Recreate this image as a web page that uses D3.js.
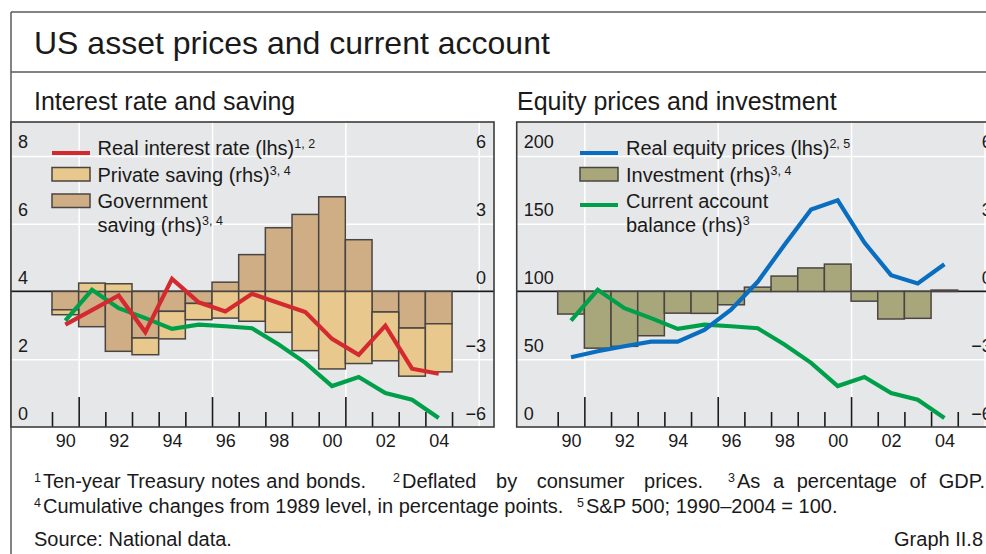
<!DOCTYPE html>
<html>
<head>
<meta charset="utf-8">
<script src="https://cdn.jsdelivr.net/npm/d3@7"></script>
<style>
  html, body { margin: 0; padding: 0; background: #fff; }
  svg { display: block; font-family: "Liberation Sans", Arial, Helvetica, sans-serif; }
</style>
</head>
<body>
<svg id="chart" width="986" height="554"></svg>
<script>
// ---------------- DATA ----------------
const years = [1990, 1991, 1992, 1993, 1994, 1995, 1996, 1997, 1998, 1999, 2000, 2001, 2002, 2003, 2004];
const yearLabels = ["90", "92", "94", "96", "98", "00", "02", "04"];
const yearLabelValues = [1990, 1992, 1994, 1996, 1998, 2000, 2002, 2004];
// Left panel
const realInterestRate = [3.02, 3.45, 3.88, 2.80, 4.37, 3.68, 3.41, 3.93, 3.66, 3.39, 2.60, 2.13, 2.99, 1.72, 1.57];
const privateSaving = [-0.22, 0.37, 0.34, -0.74, -1.22, -0.72, -1.18, -1.32, -1.81, -2.62, -3.43, -3.19, -2.16, -2.13, -2.13];
const governmentSaving = [-0.81, -1.56, -2.65, -2.06, -0.88, -0.53, 0.41, 1.63, 2.82, 3.41, 4.19, 2.29, -0.91, -1.62, -1.43];
// Both panels
const currentAccount = [-1.29, 0.07, -0.74, -1.18, -1.66, -1.47, -1.54, -1.63, -2.35, -3.16, -4.19, -3.79, -4.50, -4.79, -5.60];
// Right panel
const realEquityPrices = [51.5, 55.9, 59.6, 63.0, 63.0, 71.6, 86.5, 107.1, 134.3, 160.5, 167.2, 136.0, 112.0, 105.9, 120.1];
const investment = [-1.00, -2.51, -2.43, -1.96, -0.96, -0.97, -0.59, 0.19, 0.68, 1.04, 1.21, -0.43, -1.22, -1.19, 0.06];
// Tick values
const leftTicksA = [0, 2, 4, 6, 8];
const leftTicksB = [0, 50, 100, 150, 200];
const rhsTicks = [-6, -3, 0, 3, 6];
const tickYears = [1990, 1991, 1992, 1993, 1994, 1995, 1996, 1997, 1998, 1999, 2000, 2001, 2002, 2003, 2004, 2005];
const longTickYears = [1991, 1996, 2001];
const gridYears = [1991, 1996, 2001, 2006];

// ---------------- STYLE ----------------
const C = {
  bg: "#E6E7E9", border: "#3c3c3c", frame: "#5a5a5a",
  red: "#D42A2F", green: "#00A04B", blue: "#0A6EC0",
  gov: "#CFAE86", priv: "#E8C88C", inv: "#A8A77C", barStroke: "#4a4542"
};
const fmt = v => (v < 0 ? "\u2212" + Math.abs(v) : String(v));

const svg = d3.select("#chart");
svg.append("rect").attr("width", 986).attr("height", 554).attr("fill", "#fff");

// frame
svg.append("line").attr("x1", 11).attr("x2", 986).attr("y1", 12).attr("y2", 12).attr("stroke", C.frame).attr("stroke-width", 1.5);
svg.append("line").attr("x1", 11).attr("x2", 986).attr("y1", 72).attr("y2", 72).attr("stroke", C.frame).attr("stroke-width", 1.5);
svg.append("line").attr("x1", 11).attr("x2", 11).attr("y1", 12).attr("y2", 554).attr("stroke", C.frame).attr("stroke-width", 1.5);

svg.append("text").attr("x", 34).attr("y", 54).attr("font-size", 32).attr("fill", "#1a1a1a")
  .text("US asset prices and current account");
svg.append("text").attr("x", 34).attr("y", 110).attr("font-size", 25).attr("fill", "#1a1a1a")
  .text("Interest rate and saving");
svg.append("text").attr("x", 517).attr("y", 110).attr("font-size", 25).attr("fill", "#1a1a1a")
  .text("Equity prices and investment");

const Y0 = 122, Y1 = 427;

function stackDiverging(seriesList) {
  const pos = years.map(() => 0), neg = years.map(() => 0);
  return seriesList.map(s => s.map((v, i) => {
    if (v >= 0) { const a = pos[i]; pos[i] += v; return [a, pos[i]]; }
    const a = neg[i]; neg[i] += v; return [neg[i], a];
  }));
}

function panel(opts) {
  const { x0, x1, lhsDomain, lhsTicks } = opts;
  const g = svg.append("g");
  const x = d3.scaleLinear().domain([1988.463, 2006.573]).range([x0, x1]);
  const yL = d3.scaleLinear().domain(lhsDomain).range([Y1, Y0]);
  const yR = d3.scaleLinear().domain([-6, 7.5]).range([Y1, Y0]);

  g.append("rect").attr("x", x0).attr("y", Y0).attr("width", x1 - x0).attr("height", Y1 - Y0).attr("fill", C.bg);

  const clip = "clip" + Math.round(x0);
  svg.append("clipPath").attr("id", clip).append("rect")
    .attr("x", x0).attr("y", Y0).attr("width", x1 - x0).attr("height", Y1 - Y0);
  const inner = g.append("g").attr("clip-path", `url(#${clip})`);

  // horizontal gridlines
  const gy = inner.append("g").attr("transform", `translate(${x0},0)`)
    .call(d3.axisRight(yL).tickValues(lhsTicks).tickSize(x1 - x0).tickFormat(""));
  gy.select(".domain").remove();
  gy.selectAll("line").attr("stroke", "#fff").attr("stroke-width", 1.5);
  // vertical gridlines
  const gx = inner.append("g").attr("transform", `translate(0,${Y1})`)
    .call(d3.axisTop(x).tickValues(gridYears).tickSize(Y1 - Y0).tickFormat(""));
  gx.select(".domain").remove();
  gx.selectAll("line").attr("stroke", "#fff").attr("stroke-width", 1.5);

  // zero line (rhs)
  inner.append("line").attr("x1", x0).attr("x2", x1).attr("y1", yR(0)).attr("y2", yR(0))
    .attr("stroke", "#1a1a1a").attr("stroke-width", 1.8);

  // bars
  const stacked = stackDiverging(opts.bars.map(b => b.values));
  opts.bars.forEach((b, k) => {
    inner.append("g").selectAll("rect").data(stacked[k]).join("rect")
      .attr("x", (d, i) => x(years[i]))
      .attr("width", (d, i) => x(years[i] + 1) - x(years[i]))
      .attr("y", d => yR(d[1]))
      .attr("height", d => Math.max(0, yR(d[0]) - yR(d[1])))
      .attr("fill", b.color).attr("stroke", C.barStroke).attr("stroke-width", 1.5);
  });

  // ticks (short and long) from bottom up
  const tShort = inner.append("g").attr("transform", `translate(0,${Y1})`)
    .call(d3.axisTop(x).tickValues(tickYears.filter(t => !longTickYears.includes(t))).tickSize(15).tickFormat(""));
  tShort.select(".domain").remove();
  tShort.selectAll("line").attr("stroke", "#1a1a1a").attr("stroke-width", 1.6);
  const tLong = inner.append("g").attr("transform", `translate(0,${Y1})`)
    .call(d3.axisTop(x).tickValues(longTickYears).tickSize(30).tickFormat(""));
  tLong.select(".domain").remove();
  tLong.selectAll("line").attr("stroke", "#1a1a1a").attr("stroke-width", 1.6);

  // lines
  opts.lines.forEach(l => {
    const sc = l.axis === "lhs" ? yL : yR;
    inner.append("path").datum(l.values)
      .attr("d", d3.line().x((d, i) => x(years[i] + 0.5)).y(d => sc(d)))
      .attr("fill", "none").attr("stroke", l.color).attr("stroke-width", 4.2)
      .attr("stroke-linejoin", "miter").attr("stroke-linecap", "butt");
  });

  // tick labels: lhs inside left, rhs inside right
  const al = g.append("g").attr("transform", `translate(${x0},0)`)
    .call(d3.axisRight(yL).tickValues(lhsTicks).tickSize(0).tickPadding(7).tickFormat(fmt));
  al.select(".domain").remove();
  al.selectAll("text").attr("dy", 0).attr("y", -8).attr("font-size", 18).attr("font-family", null).attr("fill", "#1a1a1a");
  const ar = g.append("g").attr("transform", `translate(${x1},0)`)
    .call(d3.axisLeft(yR).tickValues(rhsTicks).tickSize(0).tickPadding(8).tickFormat(fmt));
  ar.select(".domain").remove();
  ar.selectAll("text").attr("dy", 0).attr("y", -8).attr("font-size", 18).attr("font-family", null).attr("fill", "#1a1a1a");

  // x labels
  const ax = g.append("g").attr("transform", `translate(0,${Y1})`)
    .call(d3.axisBottom(x).tickValues(yearLabelValues.map(v => v + 0.5)).tickSize(0).tickPadding(0)
      .tickFormat((d, i) => yearLabels[i]));
  ax.select(".domain").remove();
  ax.selectAll("text").attr("dy", 0).attr("y", 20).attr("font-size", 18).attr("font-family", null).attr("fill", "#1a1a1a");

  // border
  g.append("rect").attr("x", x0).attr("y", Y0).attr("width", x1 - x0).attr("height", Y1 - Y0)
    .attr("fill", "none").attr("stroke", C.border).attr("stroke-width", 1.6);

  // legend
  const lg = g.append("g");
  const sx = x0 + opts.legendSwatch, tx = x0 + opts.legendText;
  opts.legend.forEach(item => {
    if (item.type === "line") {
      lg.append("line").attr("x1", sx).attr("x2", sx + 38).attr("y1", item.y).attr("y2", item.y)
        .attr("stroke", item.color).attr("stroke-width", 4.2);
    } else {
      lg.append("rect").attr("x", sx).attr("y", item.y - 7).attr("width", 38).attr("height", 13.5)
        .attr("fill", item.color).attr("stroke", C.barStroke).attr("stroke-width", 1.5);
    }
    item.lines.forEach((ln, j) => {
      const t = lg.append("text").attr("x", tx).attr("y", item.ty + j * 23.5).attr("font-size", 20).attr("fill", "#1a1a1a");
      t.append("tspan").text(ln[0]);
      if (ln[1]) t.append("tspan").attr("dy", -7).attr("font-size", 12.5).text(ln[1]);
    });
  });
}

panel({
  x0: 11, x1: 494, lhsDomain: [0, 9], lhsTicks: leftTicksA, legendSwatch: 41, legendText: 86.5,
  bars: [{ values: governmentSaving, color: C.gov }, { values: privateSaving, color: C.priv }],
  lines: [{ values: currentAccount, color: C.green, axis: "rhs" }, { values: realInterestRate, color: C.red, axis: "lhs" }],
  legend: [
    { type: "line", color: C.red, y: 153, ty: 155, lines: [["Real interest rate (lhs)", "1, 2"]] },
    { type: "rect", color: C.priv, y: 174.5, ty: 182, lines: [["Private saving (rhs)", "3, 4"]] },
    { type: "rect", color: C.gov, y: 201, ty: 208, lines: [["Government", ""], ["saving (rhs)", "3, 4"]] }
  ]
});

panel({
  x0: 516.7, x1: 999.7, lhsDomain: [0, 225], lhsTicks: leftTicksB, legendSwatch: 63.3, legendText: 109.3,
  bars: [{ values: investment, color: C.inv }],
  lines: [{ values: currentAccount, color: C.green, axis: "rhs" }, { values: realEquityPrices, color: C.blue, axis: "lhs" }],
  legend: [
    { type: "line", color: C.blue, y: 153, ty: 155, lines: [["Real equity prices (lhs)", "2, 5"]] },
    { type: "rect", color: C.inv, y: 174.5, ty: 182, lines: [["Investment (rhs)", "3, 4"]] },
    { type: "line", color: C.green, y: 205, ty: 208, lines: [["Current account", ""], ["balance (rhs)", "3"]] }
  ]
});

// ---------------- FOOTNOTES ----------------
function footnote(x, y, sup, txt, target) {
  const t = svg.append("text").attr("x", x).attr("y", y).attr("font-size", 20).attr("fill", "#1a1a1a");
  t.append("tspan").attr("dy", -6).attr("font-size", 12.5).text(sup);
  t.append("tspan").attr("dy", 6).attr("dx", 2).text(txt);
  if (target) {
    const w = t.node().getComputedTextLength();
    const spaces = (txt.match(/ /g) || []).length;
    if (spaces > 0 && target > w) t.attr("word-spacing", (target - w) / spaces);
  }
  return t;
}
footnote(34, 488, "1", "Ten-year Treasury notes and bonds.", 330);
footnote(393, 488, "2", "Deflated by consumer prices.", 308);
footnote(728, 488, "3", "As a percentage of GDP.", 255);
footnote(34, 513, "4", "Cumulative changes from 1989 level, in percentage points.", 0);
footnote(577, 513, "5", "S&P 500; 1990\u20132004 = 100.", 0);

svg.append("text").attr("x", 34).attr("y", 546).attr("font-size", 20).attr("fill", "#1a1a1a").text("Source: National data.");
svg.append("text").attr("x", 983).attr("y", 546).attr("font-size", 20).attr("text-anchor", "end").attr("fill", "#1a1a1a").text("Graph II.8");
</script>
</body>
</html>
